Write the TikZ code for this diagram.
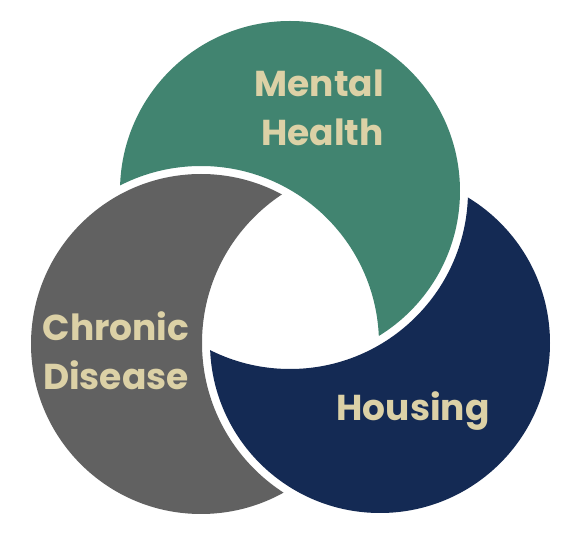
\documentclass[tikz,border=0pt]{standalone}
\usepackage{fontspec}
\setmainfont{Poppins}
\definecolor{mhgreen}{RGB}{65,132,112}
\definecolor{cdgray}{RGB}{97,97,97}
\definecolor{hnavy}{RGB}{20,42,84}
\definecolor{labeltan}{RGB}{220,209,166}
\tikzset{
  lbl/.style={text=labeltan, inner sep=0pt, font=\fontsize{36}{44}\selectfont\bfseries}
}
\begin{document}
\begin{tikzpicture}[x=1pt,y=-1pt]
\fill[white] (0,0) rectangle (582,545);
\useasboundingbox (0,0) rectangle (582,545);
\coordinate (G) at (290,191);
\coordinate (C) at (201,344);
\coordinate (H) at (380,343);
% Mental Health: green circle minus enlarged gray circle
\begin{scope}[even odd rule]
  \clip (-20,-20) rectangle (620,580) (C) circle (178pt);
  \fill[mhgreen] (G) circle (170pt);
\end{scope}
% Chronic Disease: gray circle minus enlarged navy circle
\begin{scope}[even odd rule]
  \clip (-20,-20) rectangle (620,580) (H) circle (178pt);
  \fill[cdgray] (C) circle (170pt);
\end{scope}
% Housing: navy circle minus enlarged green circle
\begin{scope}[even odd rule]
  \clip (-20,-20) rectangle (620,580) (G) circle (178pt);
  \fill[hnavy] (H) circle (170pt);
\end{scope}
\node[lbl, anchor=base east] (mh1) at (384,97) {Mental};
\node[lbl, anchor=base east] (mh2) at (384,146) {Health};
\node[lbl, anchor=base] (cd1) at (116,341) {Chronic};
\node[lbl, anchor=base] (cd2) at (116,390) {Disease};
\node[lbl, anchor=base] (ho) at (413,421) {Housing};
\end{tikzpicture}
\end{document}
